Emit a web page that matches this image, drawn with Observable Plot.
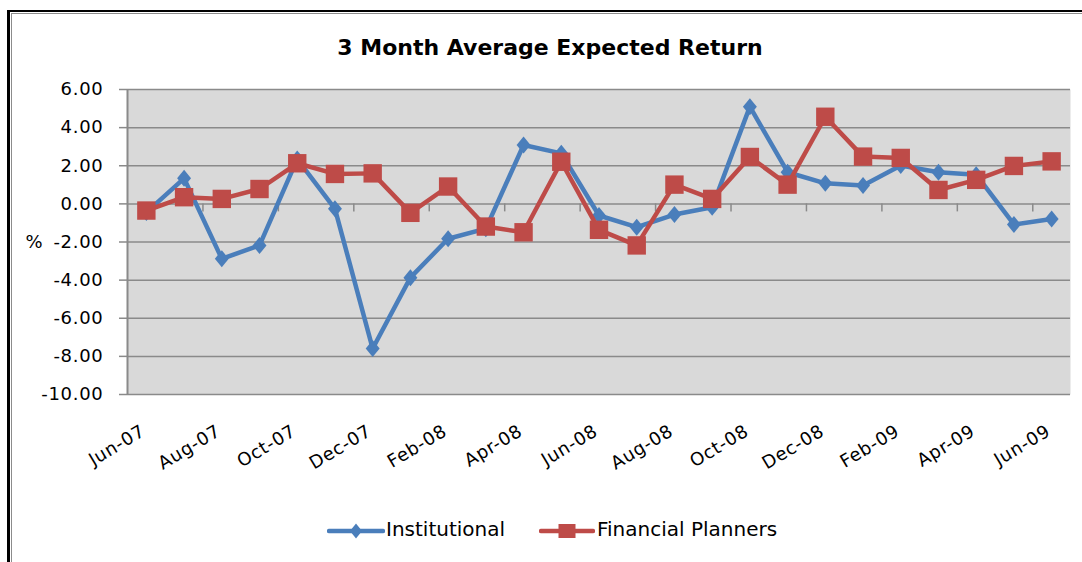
<!DOCTYPE html>
<html>
<head>
<meta charset="utf-8">
<script src="https://cdn.jsdelivr.net/npm/d3@7"></script>
<script src="https://cdn.jsdelivr.net/npm/@observablehq/plot@0.6"></script>
<style>
  html, body { margin: 0; padding: 0; background: #fff; }
  #wrap { position: relative; width: 1082px; height: 562px; overflow: hidden; font-family: "DejaVu Sans", sans-serif; }
  .ln { position: absolute; }
  #title { position: absolute; left: 0; width: 1100px; text-align: center; top: 35px; font: bold 22px "DejaVu Sans", sans-serif; color: #000; white-space: nowrap; }
  #chart { position: absolute; left: 0; top: 0; }
  #chart svg text { letter-spacing: 0.7px; }
  .leg { position: absolute; font: 20px "DejaVu Sans", sans-serif; color: #000; white-space: nowrap; line-height: 20px; }
</style>
</head>
<body>
<div id="wrap">
  <div class="ln" style="left:7px;top:9.5px;width:1080px;height:2.5px;background:#000"></div>
  <div class="ln" style="left:11px;top:12.7px;width:1080px;height:1.3px;background:#8c8c8c"></div>
  <div class="ln" style="left:7.3px;top:9.5px;width:2.7px;height:560px;background:#000"></div>
  <div class="ln" style="left:11px;top:12.7px;width:1.3px;height:560px;background:#8c8c8c"></div>
  <div id="chart"></div>
  <div id="title">3 Month Average Expected Return</div>
  <div id="legend"></div>
</div>
<script>
const months = ["Jun-07","Jul-07","Aug-07","Sep-07","Oct-07","Nov-07","Dec-07","Jan-08","Feb-08","Mar-08","Apr-08","May-08",
                "Jun-08","Jul-08","Aug-08","Sep-08","Oct-08","Nov-08","Dec-08","Jan-09","Feb-09","Mar-09","Apr-09","May-09","Jun-09"];
const institutional = [-0.45, 1.34, -2.88, -2.18, 2.35, -0.26, -7.59, -3.87, -1.83, -1.3, 3.09, 2.65,
                       -0.61, -1.22, -0.56, -0.18, 5.1, 1.66, 1.08, 0.96, 2.01, 1.66, 1.53, -1.08, -0.79];
const planners = [-0.35, 0.35, 0.26, 0.78, 2.13, 1.57, 1.6, -0.47, 0.91, -1.19, -1.49, 2.21,
                  -1.36, -2.18, 1.01, 0.26, 2.46, 1.01, 4.57, 2.48, 2.41, 0.73, 1.26, 1.99, 2.23];
const xLabels = ["Jun-07","Aug-07","Oct-07","Dec-07","Feb-08","Apr-08","Jun-08","Aug-08","Oct-08","Dec-08","Feb-09","Apr-09","Jun-09"];
const yTicks = [6, 4, 2, 0, -2, -4, -6, -8, -10];
const seriesNames = ["Institutional", "Financial Planners"];

const BLUE = "#4A7EBB", RED = "#BE4B48", GRID = "#8a8a8a";

const rows = months.map((m, i) => ({i, m, inst: institutional[i], fp: planners[i]}));
const labeled = rows.filter(d => xLabels.includes(d.m));

const diamond = {draw(ctx, size) { const r = Math.sqrt(size / Math.PI); const w = r * 0.82;
  ctx.moveTo(0, -r); ctx.lineTo(w, 0); ctx.lineTo(0, r); ctx.lineTo(-w, 0); ctx.closePath(); }};
const square = {draw(ctx, size) { const r = Math.sqrt(size / Math.PI); ctx.rect(-r, -r, 2 * r, 2 * r); }};

const chart = Plot.plot({
  width: 1082, height: 480,
  marginLeft: 127, marginRight: 12, marginTop: 89, marginBottom: 86,
  style: {fontFamily: "DejaVu Sans, sans-serif", background: "transparent", overflow: "visible"},
  x: {type: "linear", domain: [-0.5, months.length - 0.5], axis: null},
  y: {domain: [-10, 6], axis: null},
  marks: [
    Plot.frame({fill: "#D9D9D9", stroke: null}),
    Plot.ruleY(yTicks, {stroke: GRID, strokeWidth: 1.5}),
    Plot.ruleX(labeled.slice(1), {x: d => d.i - 0.5, y1: 0, y2: 0, insetBottom: -8, stroke: GRID, strokeWidth: 1.5}),
    Plot.ruleX([-0.5], {stroke: GRID, strokeWidth: 2}),
    Plot.axisY(yTicks, {tickFormat: d => d.toFixed(2), tickSize: 8, tickPadding: 16, fontSize: 18, stroke: GRID, strokeWidth: 1.5, fill: "#000", label: null}),
    Plot.text(["%"], {frameAnchor: "left", y: -2, dx: -102, textAnchor: "start", fontSize: 18, fill: "#000"}),
    Plot.text(labeled, {x: "i", text: "m", frameAnchor: "bottom", dy: 40, rotate: -31, textAnchor: "end", fontSize: 18, fill: "#000"}),
    Plot.line(rows, {x: "i", y: "inst", stroke: BLUE, strokeWidth: 4.5, strokeLinejoin: "round"}),
    Plot.dot(rows, {x: "i", y: "inst", symbol: diamond, r: 8.5, fill: BLUE, stroke: null}),
    Plot.line(rows, {x: "i", y: "fp", stroke: RED, strokeWidth: 4.5, strokeLinejoin: "round"}),
    Plot.dot(rows, {x: "i", y: "fp", symbol: square, r: 9.2, fill: RED, stroke: null})
  ]
});
document.getElementById("chart").appendChild(chart);

// legend
const legend = document.getElementById("legend");
const items = [
  {name: seriesNames[0], color: BLUE, x0: 329, x1: 383, tx: 386, shape: "diamond"},
  {name: seriesNames[1], color: RED, x0: 541, x1: 593, tx: 597, shape: "square"}
];
for (const it of items) {
  const sw = document.createElementNS("http://www.w3.org/2000/svg", "svg");
  sw.setAttribute("width", it.x1 - it.x0 + 4);
  sw.setAttribute("height", 20);
  sw.style.position = "absolute";
  sw.style.left = (it.x0 - 2) + "px";
  sw.style.top = "521px";
  const w = it.x1 - it.x0, cx = 2 + w / 2;
  sw.innerHTML = `<line x1="2" x2="${w + 2}" y1="10" y2="10" stroke="${it.color}" stroke-width="4.5" stroke-linecap="round"/>` +
    (it.shape === "diamond"
      ? `<path d="M${cx},2.5L${cx + 6},10L${cx},17.5L${cx - 6},10Z" fill="${it.color}"/>`
      : `<rect x="${cx - 8.5}" y="3" width="17" height="14" fill="${it.color}"/>`);
  legend.appendChild(sw);
  const t = document.createElement("div");
  t.className = "leg";
  t.textContent = it.name;
  t.style.left = it.tx + "px";
  t.style.top = "519px";
  legend.appendChild(t);
}
</script>
</body>
</html>
